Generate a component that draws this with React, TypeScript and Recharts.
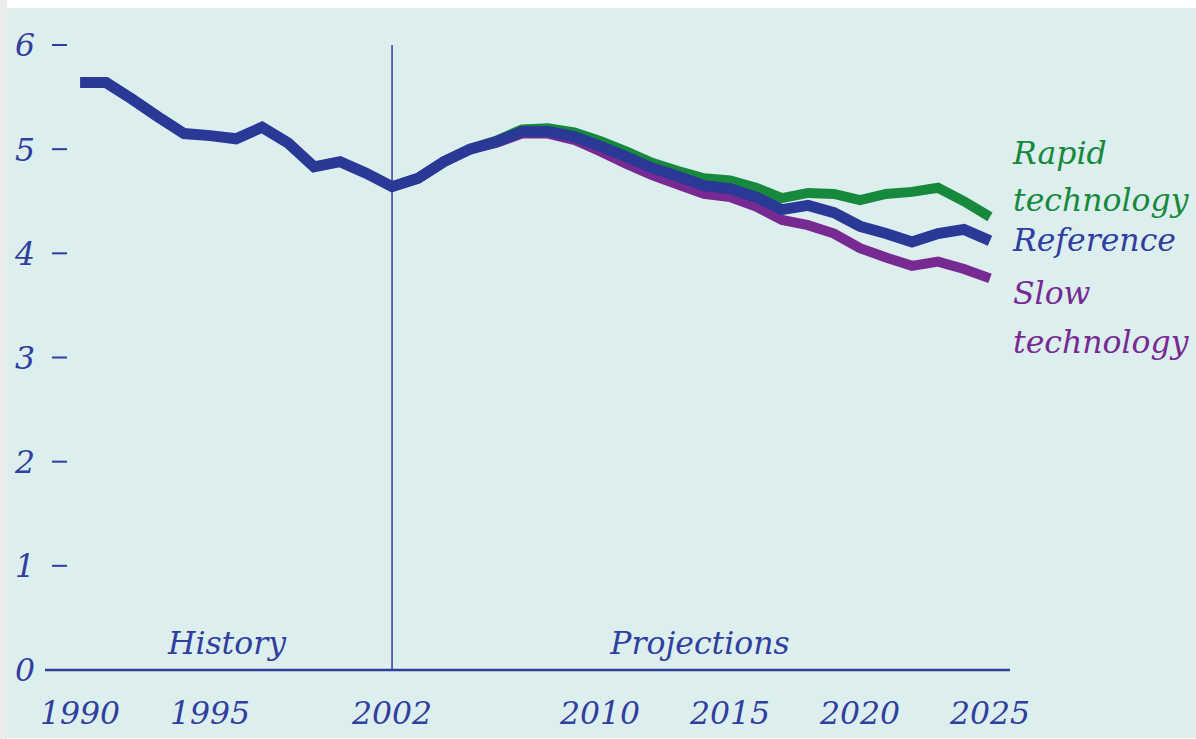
import React from 'react'
import { LineChart, Line, XAxis, YAxis, ReferenceLine } from 'recharts'

const YEARS = [
  1990, 1991, 1992, 1993, 1994, 1995, 1996, 1997, 1998, 1999, 2000, 2001, 2002,
  2003, 2004, 2005, 2006, 2007, 2008, 2009, 2010, 2011, 2012, 2013, 2014, 2015,
  2016, 2017, 2018, 2019, 2020, 2021, 2022, 2023, 2024, 2025,
]

// history 1990-2002 followed by the reference case
const REFERENCE = [
  5.64, 5.64, 5.48, 5.31, 5.15, 5.13, 5.1, 5.21, 5.06, 4.83, 4.88, 4.77, 4.64,
  4.72, 4.88, 5.0, 5.07, 5.17, 5.17, 5.12, 5.03, 4.93, 4.82, 4.74, 4.65, 4.62,
  4.54, 4.42, 4.46, 4.39, 4.26, 4.19, 4.11, 4.19, 4.23, 4.12,
]

// projections only, from 2002
const RAPID = [
  4.64, 4.72, 4.88, 5.0, 5.08, 5.19, 5.2, 5.16, 5.08, 4.98, 4.87, 4.79, 4.72,
  4.7, 4.63, 4.53, 4.58, 4.57, 4.51, 4.57, 4.59, 4.63, 4.5, 4.35,
]
const SLOW = [
  4.64, 4.72, 4.88, 5.0, 5.06, 5.15, 5.15, 5.09, 4.98, 4.86, 4.75, 4.66, 4.57,
  4.54, 4.45, 4.32, 4.27, 4.19, 4.05, 3.96, 3.88, 3.92, 3.85, 3.76,
]

const X_TICKS = [1990, 1995, 2002, 2010, 2015, 2020, 2025]
const Y_TICKS = [0, 1, 2, 3, 4, 5, 6]
const SPLIT_YEAR = 2002

const BLUE = '#2a3896'
const GREEN = '#16893c'
const PURPLE = '#762a92'
const TEXT_BLUE = '#2f3f9e'
const BG = '#ddeeee'
const FONT = "'DejaVu Serif', serif"
const FS = 31.5

const projStart = YEARS.indexOf(SPLIT_YEAR)
const data = YEARS.map((year, i) => ({
  year,
  reference: REFERENCE[i],
  rapid: i >= projStart ? RAPID[i - projStart] : null,
  slow: i >= projStart ? SLOW[i - projStart] : null,
}))

const XTick = (props: any) => {
  const { x, payload } = props
  return (
    <text
      x={x}
      y={724}
      textAnchor="middle"
      fill={TEXT_BLUE}
      fontFamily={FONT}
      fontStyle="italic"
      fontSize={FS}
    >
      {payload.value}
    </text>
  )
}

const YTick = (props: any) => {
  const { y, payload } = props
  return (
    <g>
      <text
        x={25}
        y={y}
        dy="0.36em"
        textAnchor="middle"
        fill={TEXT_BLUE}
        fontFamily={FONT}
        fontStyle="italic"
        fontSize={FS}
      >
        {payload.value}
      </text>
      <line x1={52} x2={67} y1={y} y2={y} stroke={TEXT_BLUE} strokeWidth={2} />
    </g>
  )
}

const label = (color: string): React.CSSProperties => ({
  position: 'absolute',
  color,
  fontFamily: FONT,
  fontStyle: 'italic',
  fontSize: FS,
  lineHeight: '34px',
  whiteSpace: 'nowrap',
})

export default function App() {
  return (
    <div
      style={{
        position: 'absolute',
        left: 0,
        top: 0,
        width: 1196,
        height: 739,
        background: '#ffffff',
        overflow: 'hidden',
      }}
    >
      <div style={{ position: 'absolute', left: 0, top: 0, width: 7, height: 739, background: '#ececec' }} />
      <div style={{ position: 'absolute', left: 7, top: 8, width: 1189, height: 730, background: BG }} />
      <div style={{ position: 'absolute', left: 0, top: 0 }}>
        <LineChart
          width={1196}
          height={739}
          data={data}
          margin={{ top: 45, right: 186, bottom: 9, left: 5 }}
        >
          <XAxis
            dataKey="year"
            type="number"
            domain={[1988.65, 2025.77]}
            ticks={X_TICKS}
            tick={<XTick />}
            tickLine={false}
            axisLine={{ stroke: TEXT_BLUE, strokeWidth: 2.5 }}
            height={60}
            interval={0}
          />
          <YAxis
            domain={[0, 6]}
            ticks={Y_TICKS}
            tick={<YTick />}
            tickLine={false}
            axisLine={false}
            width={40}
            interval={0}
          />
          <ReferenceLine x={SPLIT_YEAR} stroke={TEXT_BLUE} strokeWidth={1.5} />
          <Line
            dataKey="slow"
            stroke={PURPLE}
            strokeWidth={10}
            dot={false}
            type="linear"
            isAnimationActive={false}
          />
          <Line
            dataKey="rapid"
            stroke={GREEN}
            strokeWidth={10}
            dot={false}
            type="linear"
            isAnimationActive={false}
          />
          <Line
            dataKey="reference"
            stroke={BLUE}
            strokeWidth={11}
            dot={false}
            type="linear"
            isAnimationActive={false}
          />
        </LineChart>
      </div>
      <div style={{ ...label(TEXT_BLUE), left: 227, top: 626, transform: 'translateX(-50%)' }}>History</div>
      <div style={{ ...label(TEXT_BLUE), left: 700, top: 626, transform: 'translateX(-50%)' }}>Projections</div>
      <div style={{ ...label(GREEN), left: 1013, top: 136 }}>Rapid</div>
      <div style={{ ...label(GREEN), left: 1013, top: 183 }}>technology</div>
      <div style={{ ...label(TEXT_BLUE), left: 1013, top: 223 }}>Reference</div>
      <div style={{ ...label(PURPLE), left: 1013, top: 276 }}>Slow</div>
      <div style={{ ...label(PURPLE), left: 1013, top: 325 }}>technology</div>
    </div>
  )
}
